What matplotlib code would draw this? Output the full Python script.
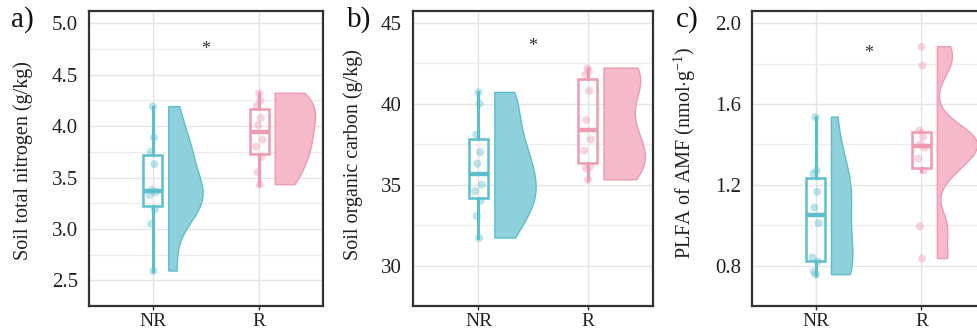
import numpy as np
import matplotlib
matplotlib.use("Agg")
import matplotlib.pyplot as plt

plt.rcParams['font.family'] = ['Liberation Serif', 'DejaVu Serif']
plt.rcParams['mathtext.fontset'] = 'custom'
plt.rcParams['mathtext.rm'] = 'Liberation Serif'
plt.rcParams['mathtext.it'] = 'Liberation Serif:italic'

groups = ["NR", "R"]

# panel a: soil total nitrogen (g/kg)
tn_nr = [4.19, 3.89, 3.75, 3.63, 3.38, 3.36, 3.33, 3.19, 3.05, 2.59]
tn_r = [4.32, 4.25, 4.20, 4.08, 4.01, 3.87, 3.80, 3.70, 3.55, 3.43]
# panel b: soil organic carbon (g/kg)
soc_nr = [40.7, 40.0, 38.1, 37.0, 36.3, 35.0, 34.6, 34.0, 33.05, 31.7]
soc_r = [42.2, 42.0, 41.8, 40.8, 39.0, 37.8, 37.1, 36.1, 36.0, 35.3]
# panel c: PLFA of AMF (nmol g-1)
amf_nr = [1.535, 1.27, 1.255, 1.165, 1.088, 1.01, 0.84, 0.82, 0.77, 0.755]
amf_r = [1.883, 1.79, 1.468, 1.437, 1.40, 1.385, 1.33, 1.27, 0.995, 0.835]

panel_letters = ["a)", "b)", "c)"]
ylabels = ["Soil total nitrogen (g/kg)", "Soil organic carbon (g/kg)",
           r"PLFA of AMF (nmol$\cdot$g$^{-1}$)"]
sig_labels = ["*", "*", "*"]
sig_y = [4.75, 43.55, 1.85]

edge_cols = ["#5cbfcb", "#ee9ab2"]
fill_cols = ["#8ed1dc", "#f5b9c9"]

jit = np.array([0.0, 0.01, -0.02, 0.015, -0.01, 0.03, -0.03, 0.02, -0.015, 0.005])


def nrd0(x):
    x = np.asarray(x)
    sd = np.std(x, ddof=1)
    iqr = np.subtract(*np.percentile(x, [75, 25]))
    lo = min(sd, iqr / 1.34)
    return 0.9 * lo * len(x) ** -0.2


def kde(x, grid):
    x = np.asarray(x)
    bw = nrd0(x)
    d = np.exp(-0.5 * ((grid[:, None] - x[None, :]) / bw) ** 2).sum(axis=1)
    return d / (len(x) * bw * np.sqrt(2 * np.pi))


fig = plt.figure(figsize=(9.77, 3.31), dpi=100)
W = 977.0
H = 331.0
ax_specs = [
    (89, 234, (2.37, 5.12), [2.5, 3.0, 3.5, 4.0, 4.5, 5.0], 0.25, "%.1f"),
    (413, 240, (29.22, 45.73), [30, 35, 40, 45], 2.5, "%d"),
    (752, 233, (0.683, 2.06), [0.8, 1.2, 1.6, 2.0], 0.2, "%.1f"),
]
datasets = [(tn_nr, tn_r), (soc_nr, soc_r), (amf_nr, amf_r)]
label_y = [0.492, 0.512, 0.519]
label_x = [33, 363, 698]
letter_x = [11, 347, 676]

for i, (left, width, ylim, ticks, minor, fmt) in enumerate(ax_specs):
    ax = fig.add_axes([left / W, 1 - 306 / H, width / W, 295 / H])
    ax.set_xlim(0.4, 2.6)
    ax.set_ylim(*ylim)
    ax.set_yticks(ticks)
    ax.set_yticklabels([fmt % t for t in ticks])
    ax.set_yticks(np.arange(ticks[0] - minor, ylim[1], minor), minor=True)
    ax.set_xticks([1, 2])
    ax.set_xticklabels(groups)
    ax.grid(True, which='major', color='#e4e4e4', lw=1.0, zorder=0)
    ax.grid(True, which='minor', axis='y', color='#ececec', lw=0.9, zorder=0)
    ax.set_axisbelow(True)
    for s in ax.spines.values():
        s.set_color('#333333')
        s.set_linewidth(1.6)
    ax.tick_params(axis='y', which='major', labelsize=15, labelcolor='#222222',
                   length=0, pad=8)
    ax.tick_params(axis='y', which='minor', length=0)
    ax.tick_params(axis='x', labelsize=14, labelcolor='#222222', color='#333333',
                   length=3, width=1, pad=2)

    data = datasets[i]
    grids, dens = [], []
    for vals in data:
        g = np.linspace(min(vals), max(vals), 400)
        grids.append(g)
        dens.append(kde(vals, g))
    dmax = max(d.max() for d in dens)
    for k, vals in enumerate(data):
        pos = k + 1
        ax.boxplot([vals], positions=[pos], widths=0.18, patch_artist=True,
                   showfliers=False, showcaps=False, manage_ticks=False,
                   boxprops=dict(facecolor='none', edgecolor=edge_cols[k], lw=1.8),
                   whiskerprops=dict(color=edge_cols[k], lw=2.2),
                   medianprops=dict(color=edge_cols[k], lw=3.2),
                   zorder=3)
        ax.scatter(pos + jit, vals, s=34, color=edge_cols[k], alpha=0.42,
                   edgecolors='none', zorder=4)
        x0 = pos + 0.15
        wv = dens[k] / dmax * 0.38
        xs = np.concatenate([[x0], x0 + wv, [x0]])
        ys = np.concatenate([[grids[k][0]], grids[k], [grids[k][-1]]])
        ax.fill(xs, ys, facecolor=fill_cols[k], edgecolor=edge_cols[k], lw=1.0,
                zorder=2)
    ax.text(1.5, sig_y[i], sig_labels[i], ha='center', va='center', fontsize=13,
            color='#333333')
    ax.set_ylabel(ylabels[i], fontsize=14.5, color='#222222')
    ax.yaxis.set_label_coords(-(left - label_x[i]) / width, label_y[i])
    fig.text(letter_x[i] / W, 1 - 20 / H, panel_letters[i], fontsize=21,
             ha='left', va='center', color='#111111')

fig.savefig("out.png", dpi=100)
